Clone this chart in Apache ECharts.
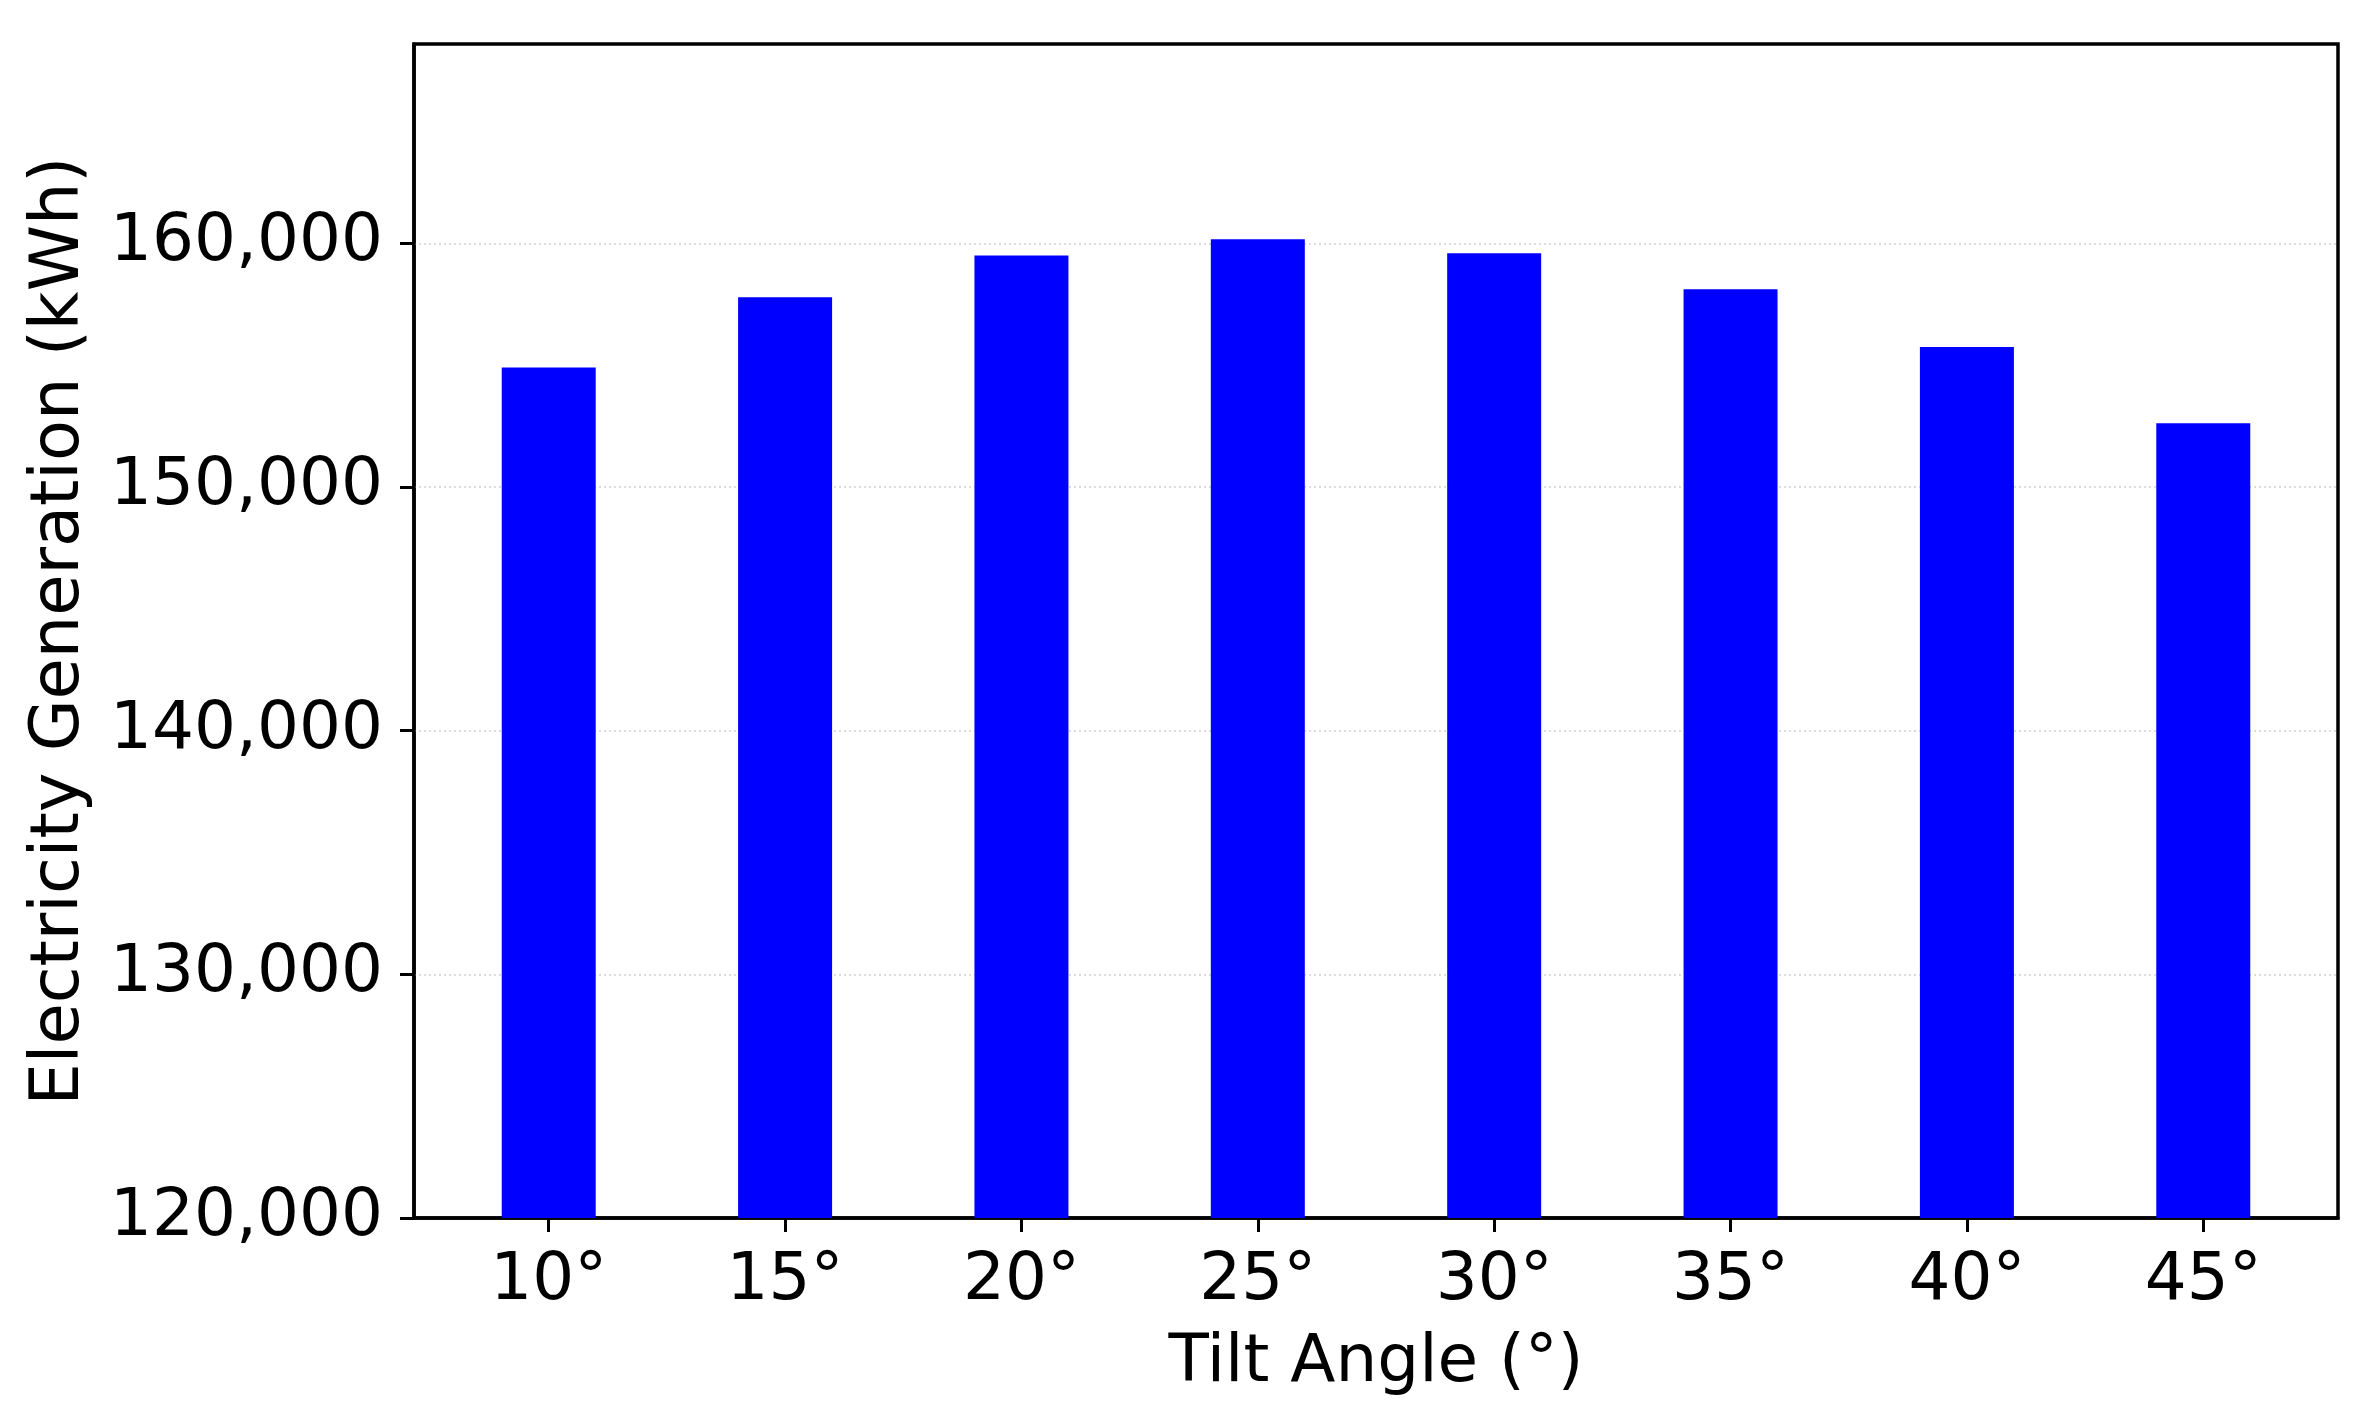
<!DOCTYPE html>
<html>
<head>
<meta charset="utf-8">
<script src="https://cdn.jsdelivr.net/npm/echarts@6/dist/echarts.min.js"></script>
<style>
html,body{margin:0;padding:0;background:#fff;}
#chart{width:2379px;height:1415px;}
</style>
</head>
<body>
<div id="chart"></div>
<script>
const categories = ['10°','15°','20°','25°','30°','35°','40°','45°'];
const values = [154900, 157790, 159500, 160170, 159590, 158110, 155740, 152620];
const yTicks = [120000, 130000, 140000, 150000, 160000];
const xTitle = 'Tilt Angle (°)';
const yTitle = 'Electricity Generation (kWh)';

const font = 'DejaVu Sans';
const fs = 66;
const chart = echarts.init(document.getElementById('chart'));
const positions = categories.map((c, i) => i);

chart.setOption({
  animation: false,
  backgroundColor: '#fff',
  grid: {
    left: 414, right: 41, top: 44, bottom: 197,
    show: true, borderColor: '#000', borderWidth: 3.5, backgroundColor: 'transparent',
    containLabel: false
  },
  xAxis: {
    type: 'value',
    min: -0.57,
    max: 7.57,
    name: xTitle,
    nameLocation: 'middle',
    nameGap: 113,
    nameTextStyle: { fontFamily: font, fontSize: fs, color: '#000' },
    axisLine: { show: true, onZero: false, lineStyle: { color: '#000', width: 3.5 } },
    axisTick: { show: true, length: 14, lineStyle: { color: '#000', width: 3 }, customValues: positions },
    axisLabel: {
      customValues: positions,
      margin: 31,
      fontFamily: font, fontSize: fs, color: '#000',
      formatter: v => categories[Math.round(v)]
    },
    splitLine: { show: false }
  },
  yAxis: {
    type: 'value',
    min: 120000,
    max: v => v.max * 1.05,
    interval: 10000,
    name: yTitle,
    nameLocation: 'middle',
    nameRotate: 90,
    nameGap: 320,
    nameTextStyle: { fontFamily: font, fontSize: 67, color: '#000' },
    axisLine: { show: true, onZero: false, lineStyle: { color: '#000', width: 3.5 } },
    axisTick: { show: true, length: 14, lineStyle: { color: '#000', width: 3 }, customValues: yTicks },
    axisLabel: {
      customValues: yTicks,
      margin: 31,
      fontFamily: font, fontSize: fs, color: '#000',
      formatter: v => v.toLocaleString('en-US')
    },
    splitLine: { show: true, lineStyle: { color: '#dcdcdc', width: 2, type: [2, 3] } }
  },
  series: [{
    type: 'bar',
    data: values.map((v, i) => [i, v]),
    barWidth: 94,
    itemStyle: { color: '#0000ff' }
  }]
});
</script>
</body>
</html>
